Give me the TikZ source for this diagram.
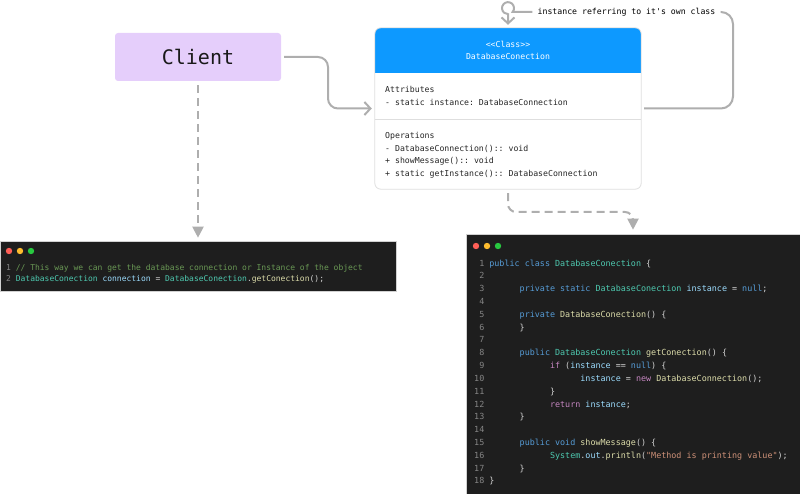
\documentclass[tikz,border=0pt]{standalone}
\usepackage{fontspec}
\setmonofont{DejaVu Sans Mono}
\usetikzlibrary{
	arrows.meta,
	positioning,
	calc,
}
\definecolor{linkgray}{HTML}{AEAEAE}
\definecolor{clientpurple}{HTML}{E5CEFB}
\definecolor{headblue}{HTML}{0D99FF}
\definecolor{classborder}{HTML}{DEDEDE}
\definecolor{codebg}{HTML}{1E1E1E}
\definecolor{codetext}{HTML}{D4D4D4}
\definecolor{lnumgray}{HTML}{858585}
\definecolor{kwblue}{HTML}{569CD6}
\definecolor{typeteal}{HTML}{4EC9B0}
\definecolor{varblue}{HTML}{9CDCFE}
\definecolor{funyellow}{HTML}{DCDCAA}
\definecolor{ctlpurple}{HTML}{C586C0}
\definecolor{strorange}{HTML}{CE9178}
\definecolor{comgreen}{HTML}{6A9955}
\definecolor{macred}{HTML}{FF5F57}
\definecolor{macyellow}{HTML}{FEBC2E}
\definecolor{macgreen}{HTML}{28C840}

% code colouring
\newcommand{\ckw}[1]{\textcolor{kwblue}{#1}}
\newcommand{\ctype}[1]{\textcolor{typeteal}{#1}}
\newcommand{\cvar}[1]{\textcolor{varblue}{#1}}
\newcommand{\cfun}[1]{\textcolor{funyellow}{#1}}
\newcommand{\cctl}[1]{\textcolor{ctlpurple}{#1}}
\newcommand{\cstr}[1]{\textcolor{strorange}{#1}}
\newcommand{\ccom}[1]{\textcolor{comgreen}{#1}}
\newcommand{\lnum}[2][1.204em]{\makebox[#1][r]{\textcolor{lnumgray}{#2}}\hspace*{0.602em}}
\newcommand{\codeind}{\hspace*{3.612em}}

\tikzset{
	clientbox/.style={
		% The shape:
		rectangle, rounded corners=3pt,
		% The size:
		minimum width=166pt, minimum height=48pt, inner sep=0pt,
		% The look:
		fill=clientpurple, text=black!90,
		font=\ttfamily\fontsize{20}{24}\selectfont,
	},
	classbox/.style={
		rectangle, minimum width=266pt, minimum height=161pt,
		fill=white, inner sep=0pt,
	},
	classhead/.style={anchor=base, inner sep=0pt, text=white,
		font=\ttfamily\fontsize{8.2}{10}\selectfont},
	classtext/.style={anchor=base west, inner sep=0pt, text=black!85,
		font=\ttfamily\fontsize{8.2}{10}\selectfont},
	codebox/.style={rectangle, fill=codebg, draw=black!18, line width=0.6pt},
	callline/.style={anchor=base west, inner sep=0pt, text=codetext,
		font=\ttfamily\fontsize{8}{10}\selectfont},
	implline/.style={anchor=base west, inner sep=0pt, text=codetext,
		font=\ttfamily\fontsize{8.4}{10}\selectfont},
}

\begin{document}
\begin{tikzpicture}[
	x=1pt, y=-1pt,
	>={Straight Barb[length=6pt,width=13pt]},
	flow/.style={draw=linkgray, line width=2pt, rounded corners=10pt},
	usage/.style={draw=linkgray, line width=2pt, dash pattern=on 8pt off 5pt,
		rounded corners=8pt, -{Triangle[length=11pt,width=11pt]}},
	]
	\useasboundingbox (0,0) rectangle (800,494);

	%% client
	\node[clientbox] (client) at (198,57) {Client};

	%% singleton class
	\node[classbox] (cls) at (508,108.5) {};
	\begin{scope}
		\clip[rounded corners=6pt] (cls.north west) rectangle (cls.south east);
		\fill[headblue] (cls.north west) rectangle (cls.east |- 0,73);
	\end{scope}
	\draw[classborder, line width=0.8pt] (cls.west |- 0,119) -- (cls.east |- 0,119);
	\draw[classborder, line width=0.8pt, rounded corners=6pt] (cls.north west) rectangle (cls.south east);

	\node[classhead] (stereo) at (508,48) {<<Class>>};
	\node[below=12pt of stereo.base, classhead] (clsname) {DatabaseConection};

	\node[classtext] (attrtitle) at (385,93) {Attributes};
	\node[below=12.4pt of attrtitle.base west, classtext] (attr1) {- static instance: DatabaseConnection};

	\node[classtext] (optitle) at (385,139) {Operations};
	\node[below=12.4pt of optitle.base west, classtext] (op1) {- DatabaseConnection():: void};
	\node[below=12.4pt of op1.base west, classtext] (op2) {+ showMessage():: void};
	\node[below=12.4pt of op2.base west, classtext] (op3) {+ static getInstance():: DatabaseConnection};

	%% self reference
	\node[classtext, anchor=center, text=black, inner xsep=5pt] (selfref) at (626.5,12) {instance referring to it's own class};
	\coordinate (loopcorner) at (733,12);
	\draw[flow, rounded corners=12pt, shorten <=3pt] (cls.east) -| (loopcorner) -- (selfref.east);
	\draw[flow, sharp corners, ->, shorten >=3pt] (selfref.west) -- (512.6,12)
		arc[start angle=40, end angle=-270, radius=6] -- (cls.north);

	%% client -> class
	\coordinate (clientbend) at (328,82);
	\draw[flow, ->, shorten <=3pt, shorten >=3pt] (client.east) -| (clientbend) |- (cls.west);

	%% calling code
	\node[codebox, minimum width=396pt, minimum height=50pt] (callsite) at (198,266) {};
	\fill[macred] (9,251) circle[radius=3.2pt];
	\fill[macyellow] (20,251) circle[radius=3.2pt];
	\fill[macgreen] (31,251) circle[radius=3.2pt];
	\node[callline] (call1) at (6,270) {\lnum[0.602em]{1}\ccom{// This way we can get the database connection or Instance of the object}};
	\node[below=12pt of call1.base west, callline] (call2) {\lnum[0.602em]{2}\ctype{DatabaseConection} \cvar{connection} = \ctype{DatabaseConection}.\cfun{getConection}();};

	%% class code
	\node[codebox, minimum width=334pt, minimum height=260pt] (impl) at (633,364) {};
	\fill[macred] (476,246) circle[radius=3.2pt];
	\fill[macyellow] (487,246) circle[radius=3.2pt];
	\fill[macgreen] (498,246) circle[radius=3.2pt];
	\node[implline] (l1) at (474,266) {\lnum{1}\ckw{public class} \ctype{DatabaseConection} \{};
	\node[below=12.82pt of l1.base west, implline] (l2) {\lnum{2}};
	\node[below=12.82pt of l2.base west, implline] (l3) {\lnum{3}\codeind\ckw{private static} \ctype{DatabaseConection} \cvar{instance} = \ckw{null};};
	\node[below=12.82pt of l3.base west, implline] (l4) {\lnum{4}};
	\node[below=12.82pt of l4.base west, implline] (l5) {\lnum{5}\codeind\ckw{private} \cfun{DatabaseConection}() \{};
	\node[below=12.82pt of l5.base west, implline] (l6) {\lnum{6}\codeind\}};
	\node[below=12.82pt of l6.base west, implline] (l7) {\lnum{7}};
	\node[below=12.82pt of l7.base west, implline] (l8) {\lnum{8}\codeind\ckw{public} \ctype{DatabaseConection} \cfun{getConection}() \{};
	\node[below=12.82pt of l8.base west, implline] (l9) {\lnum{9}\codeind\codeind\cctl{if} (\cvar{instance} == \ckw{null}) \{};
	\node[below=12.82pt of l9.base west, implline] (l10) {\lnum{10}\codeind\codeind\codeind\cvar{instance} = \cctl{new} \cfun{DatabaseConnection}();};
	\node[below=12.82pt of l10.base west, implline] (l11) {\lnum{11}\codeind\codeind\}};
	\node[below=12.82pt of l11.base west, implline] (l12) {\lnum{12}\codeind\codeind\cctl{return} \cvar{instance};};
	\node[below=12.82pt of l12.base west, implline] (l13) {\lnum{13}\codeind\}};
	\node[below=12.82pt of l13.base west, implline] (l14) {\lnum{14}};
	\node[below=12.82pt of l14.base west, implline] (l15) {\lnum{15}\codeind\ckw{public void} \cfun{showMessage}() \{};
	\node[below=12.82pt of l15.base west, implline] (l16) {\lnum{16}\codeind\codeind\ctype{System}.\cvar{out}.\cfun{println}(\cstr{"Method is printing value"});};
	\node[below=12.82pt of l16.base west, implline] (l17) {\lnum{17}\codeind\}};
	\node[below=12.82pt of l17.base west, implline] (l18) {\lnum{18}\}};

	%% usage links
	\draw[usage, shorten <=4pt, shorten >=3pt] (client.south) -- (callsite.north);
	\coordinate (implbend) at (633,212);
	\draw[usage, shorten <=4pt, shorten >=4pt] (cls.south) |- (implbend) -- (impl.north);

\end{tikzpicture}
\end{document}
